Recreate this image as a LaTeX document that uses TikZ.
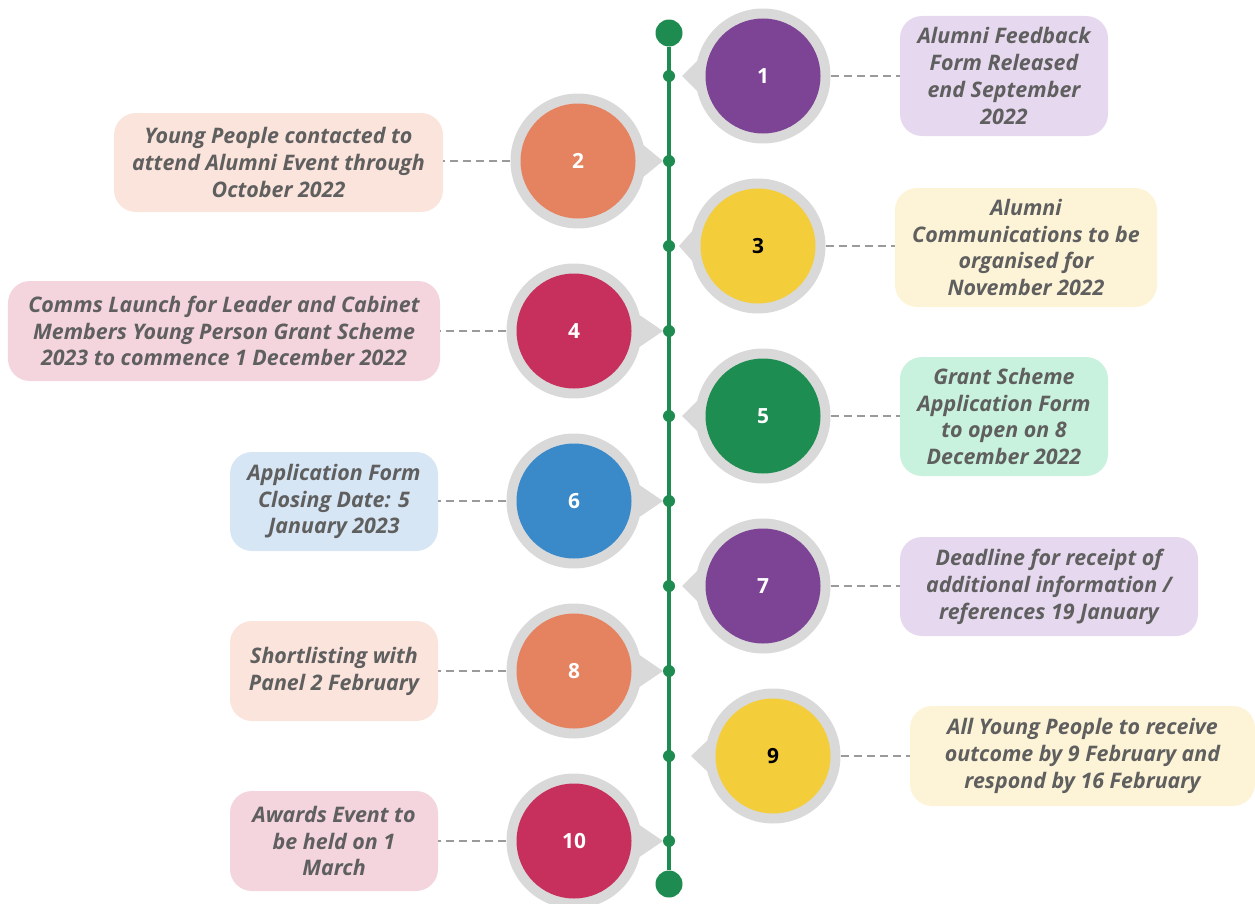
\documentclass[tikz,border=0pt]{standalone}
\usepackage{fontspec}
\setmainfont{Open Sans}
\usetikzlibrary{calc}
\definecolor{lgreen}{HTML}{1E8C50}
\definecolor{ringgray}{HTML}{D9D9D9}
\definecolor{dashgray}{HTML}{9A9A9A}
\definecolor{txtgray}{HTML}{5F5F5F}
\definecolor{cpurple}{HTML}{7D4496}
\definecolor{corange}{HTML}{E5825F}
\definecolor{cyellow}{HTML}{F4CD3B}
\definecolor{ccrimson}{HTML}{C72F5C}
\definecolor{cgreen}{HTML}{1D8D52}
\definecolor{cblue}{HTML}{3A89C9}
\definecolor{bpurple}{HTML}{E6D8EE}
\definecolor{bpeach}{HTML}{FBE4DC}
\definecolor{byellow}{HTML}{FDF4D8}
\definecolor{bpink}{HTML}{F4D5DE}
\definecolor{bmint}{HTML}{C8F2DD}
\definecolor{bblue}{HTML}{D7E6F4}
\tikzset{
  ring/.style={circle, fill=ringgray, minimum size=135bp, inner sep=0pt},
  disc/.style={circle, minimum size=115bp, inner sep=0pt, font=\bfseries\fontsize{21}{24}\selectfont},
  lbl/.style={rounded corners=22bp, inner sep=0pt, align=center, text=txtgray,
    font=\bfseries\itshape\fontsize{21.5}{27}\selectfont},
  link/.style={draw=dashgray, line width=1.5bp, dash pattern=on 8bp off 5bp},
  tl/.style={draw=lgreen, line width=4bp},
  tdot/.style={circle, fill=lgreen, minimum size=12bp, inner sep=0pt},
  enddot/.style={circle, fill=lgreen, minimum size=27bp, inner sep=0pt},
}
% #1 name, #2 cx, #3 cy, #4 dir, #5 tip x, #6 fill, #7 text colour, #8 number
\newcommand\milestone[8]{%
  \node[ring] (r#1) at (#2,#3) {};
  \coordinate (p#1) at (#5,#3);
  \fill[ringgray] ($(r#1.center)+(#4*64,-17)$) -- (p#1) -- ($(r#1.center)+(#4*64,17)$) -- cycle;
  \node[disc, fill=#6, text=#7] (c#1) at (#2,#3) {#8};
}
\begin{document}
\begin{tikzpicture}[x=1bp,y=-1bp]
\useasboundingbox (0,0) rectangle (1255,904);
% timeline
\node[enddot] (top) at (669,33) {};
\node[enddot] (bot) at (669,884) {};
\draw[tl] (top) -- (bot);
\foreach \i in {1,...,10} {
  \node[tdot] (d\i) at (669,{76+85*(\i-1)}) {};
}
% milestones
\milestone{1}{763}{76}{-1}{682}{cpurple}{white}{1}
\milestone{2}{578}{161}{1}{663}{corange}{white}{2}
\milestone{3}{758}{246}{-1}{679}{cyellow}{black}{3}
\milestone{4}{574}{331}{1}{663}{ccrimson}{white}{4}
\milestone{5}{763}{416}{-1}{682}{cgreen}{white}{5}
\milestone{6}{574}{501}{1}{663}{cblue}{white}{6}
\milestone{7}{763}{586}{-1}{682}{cpurple}{white}{7}
\milestone{8}{574}{671}{1}{663}{corange}{white}{8}
\milestone{9}{773}{756}{-1}{691}{cyellow}{black}{9}
\milestone{10}{574}{841}{1}{663}{ccrimson}{white}{10}
% boxes
\node[lbl, fill=bpurple, minimum width=208bp, minimum height=120bp] (b1) at (1004,76)
  {Alumni Feedback\\Form Released\\end September\\2022};
\node[lbl, fill=bpeach, minimum width=329bp, minimum height=99bp] (b2) at (278.5,162.5)
  {Young People contacted to\\attend Alumni Event through\\October 2022};
\node[lbl, fill=byellow, minimum width=262bp, minimum height=119bp] (b3) at (1026,247.5)
  {Alumni\\Communications to be\\organised for\\November 2022};
\node[lbl, fill=bpink, minimum width=432bp, minimum height=100bp] (b4) at (224,331)
  {Comms Launch for Leader and Cabinet\\Members Young Person Grant Scheme\\2023 to commence 1 December 2022};
\node[lbl, fill=bmint, minimum width=208bp, minimum height=119bp] (b5) at (1004,416.5)
  {Grant Scheme\\Application Form\\to open on 8\\December 2022};
\node[lbl, fill=bblue, minimum width=208bp, minimum height=99bp] (b6) at (334,501.5)
  {Application Form\\Closing Date: 5\\January 2023};
\node[lbl, fill=bpurple, minimum width=298bp, minimum height=99bp] (b7) at (1049,586.5)
  {Deadline for receipt of\\additional information /\\references 19 January};
\node[lbl, fill=bpeach, minimum width=208bp, minimum height=100bp] (b8) at (334,671)
  {Shortlisting with\\Panel 2 February};
\node[lbl, fill=byellow, minimum width=345bp, minimum height=100bp] (b9) at (1082.5,756)
  {All Young People to receive\\outcome by 9 February and\\respond by 16 February};
\node[lbl, fill=bpink, minimum width=208bp, minimum height=100bp] (b10) at (334,841)
  {Awards Event to\\be held on 1\\March};
% connectors
\foreach \i in {1,3,5,7,9} { \draw[link] (r\i.east) -- (b\i.west |- r\i.east); }
\foreach \i in {2,4,6,8,10} { \draw[link] (r\i.west) -- (b\i.east |- r\i.west); }
\end{tikzpicture}
\end{document}
